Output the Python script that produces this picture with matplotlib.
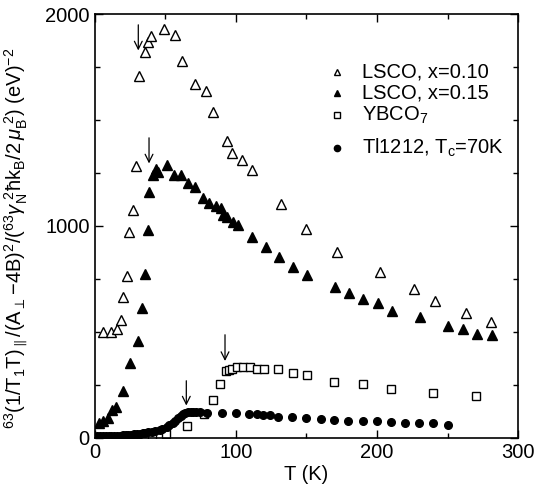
import matplotlib
matplotlib.use("Agg")
import matplotlib.pyplot as plt
from matplotlib.ticker import MultipleLocator

plt.rcParams["font.family"] = ["Liberation Sans", "DejaVu Sans"]
plt.rcParams["mathtext.fontset"] = "custom"
plt.rcParams["mathtext.rm"] = "Liberation Sans"
plt.rcParams["mathtext.it"] = "Liberation Sans:italic"
plt.rcParams["mathtext.bf"] = "Liberation Sans:bold"

# LSCO x=0.10 (open triangles)
t_010 = [6.0, 11.7, 15.9, 18.8, 20.2, 23.0, 24.4, 27.2, 29.4, 31.5, 35.7, 37.9, 40.0,
         49.2, 57.0, 61.9, 71.1, 78.9, 83.9, 93.8, 97.3, 104.4, 111.5, 132, 150,
         171.6, 202, 226, 241, 263, 281]
v_010 = [500, 500, 514, 557, 665, 764, 972, 1075, 1283, 1708, 1821, 1868, 1896,
         1929, 1901, 1778, 1670, 1637, 1538, 1401, 1344, 1311, 1264, 1104, 986,
         877, 783, 703, 646, 590, 547]

# LSCO x=0.15 (filled triangles)
t_015 = [3.2, 6.0, 9.6, 12.4, 15.2, 20.2, 25.1, 30.8, 33.6, 35.7, 37.9, 38.6, 41.4,
         43.5, 44.9, 51.3, 56.3, 61.2, 66.2, 71.1, 76.8, 81.0, 86.0, 89.5, 90.9,
         93.8, 98.0, 101.6, 111.5, 121.4, 130.6, 140.5, 150.4, 170.2, 180.1, 190.0,
         200.6, 210.5, 230.4, 250.2, 260.8, 270.7, 281.3]
v_015 = [71, 80, 94, 132, 146, 222, 354, 458, 613, 774, 981, 1160, 1241,
         1269, 1255, 1288, 1241, 1241, 1203, 1184, 1132, 1108, 1094, 1085, 1052,
         1042, 1019, 1005, 948, 901, 854, 807, 769, 712, 684, 656,
         637, 599, 571, 528, 514, 491, 486]

# YBCO7 (open squares)
t_ybco = [30.1, 40.7, 50.6, 65.5, 77.5, 83.9, 88.8, 93.1, 95.2, 97.3, 100.8, 105.1,
          110.0, 115.0, 120.0, 129.9, 140.5, 150.4, 169.5, 190.0, 209.8, 239.6, 270.0]
v_ybco = [4, 6, 19, 57, 113, 179, 255, 316, 321, 325, 335, 335,
          335, 325, 325, 325, 307, 297, 264, 255, 231, 212, 198]

# Tl1212, Tc=70K (filled circles)
t_tl = [2, 4, 6, 8, 10, 12, 14, 16, 18, 20, 22, 24, 26, 28, 30, 32, 34.3, 36, 38,
        40.7, 43, 46.4, 48, 51.3, 53, 55.6, 57, 59.1, 61, 62.6, 64, 66.2, 68, 69.7,
        72, 74.7, 79.6, 90.2, 100.1, 109.3, 115.0, 119.3, 124.2, 129.9, 139.8,
        149.7, 160.3, 169.5, 179.4, 190.0, 199.9, 209.8, 219.7, 229.6, 239.6, 250.2]
v_tl = [8, 8, 8, 9, 9, 10, 10, 10, 11, 12, 13, 14, 15, 17, 19, 21, 24, 25, 26,
        28, 32, 38, 44, 52, 60, 71, 82, 94, 104, 113, 118, 123, 123, 123,
        123, 123, 118, 118, 118, 113, 113, 108, 108, 99, 99,
        94, 90, 85, 80, 80, 80, 75, 71, 71, 71, 61]

# arrows marking Tc: (T, start value, end value)
arrows = [(31.0, 1962, 1815), (38.6, 1429, 1282), (65.0, 283, 140), (92.4, 500, 350)]

legend_labels = ["LSCO, x=0.10", "LSCO, x=0.15", "YBCO$_7$", "Tl1212, T$_{\\rm c}$=70K"]

fig = plt.figure(figsize=(5.37, 4.93), dpi=100)
ax = fig.add_axes([0.176, 0.1116, 0.789, 0.86])

ax.plot(t_010, v_010, ls="none", marker="^", ms=6.5, mfc="white", mec="black", mew=1.0)
ax.plot(t_015, v_015, ls="none", marker="^", ms=6.5, mfc="black", mec="black")
ax.plot(t_ybco, v_ybco, ls="none", marker="s", ms=5.5, mfc="white", mec="black", mew=1.0)
ax.plot(t_tl, v_tl, ls="none", marker="o", ms=5.5, mfc="black", mec="black")

for t, y0, y1 in arrows:
    ax.annotate("", xy=(t, y1), xytext=(t, y0),
                arrowprops=dict(arrowstyle="->", lw=0.9, color="black",
                                mutation_scale=14))

# legend drawn by hand (gap before last entry as in the original)
leg_y = [0.863, 0.814, 0.762, 0.684]
leg_style = [dict(marker="^", ms=5, mfc="white", mec="black"),
             dict(marker="^", ms=5, mfc="black", mec="black"),
             dict(marker="s", ms=4.5, mfc="white", mec="black"),
             dict(marker="o", ms=4.5, mfc="black", mec="black")]
for y, lab, st in zip(leg_y, legend_labels, leg_style):
    ax.plot([0.573], [y], transform=ax.transAxes, ls="none", **st)
    ax.text(0.632, y, lab, transform=ax.transAxes, fontsize=14.5, va="center", ha="left")

ax.set_xlim(0, 300)
ax.set_ylim(0, 2000)
ax.set_xticks([0, 100, 200, 300])
ax.set_yticks([0, 1000, 2000])
ax.xaxis.set_minor_locator(MultipleLocator(50))
ax.yaxis.set_minor_locator(MultipleLocator(250))
ax.tick_params(which="both", direction="in", top=True, right=True, labelsize=14.5)
ax.tick_params(which="major", length=6, width=1)
ax.tick_params(which="minor", length=3.5, width=1)
for s in ax.spines.values():
    s.set_linewidth(1.2)

ax.set_xlabel("T (K)", fontsize=14.5, labelpad=2)
ax.set_ylabel("$^{63}\\mathrm{(1/T_1T)}_{\\parallel}\\mathrm{/(A_{\\perp}\\!-\\!4B)^2/(^{63}}\\gamma"
              "_{\\mathrm{N}}^{\\ 2}\\mathrm{\\hbar k_B/2}\\,\\mu_{\\mathrm{B}}^{\\ 2}\\mathrm{)}$ (eV)$^{-2}$",
              fontsize=14.5, labelpad=2)
ax.yaxis.set_label_coords(-0.155, 0.47)

fig.savefig("out.png", dpi=100)
